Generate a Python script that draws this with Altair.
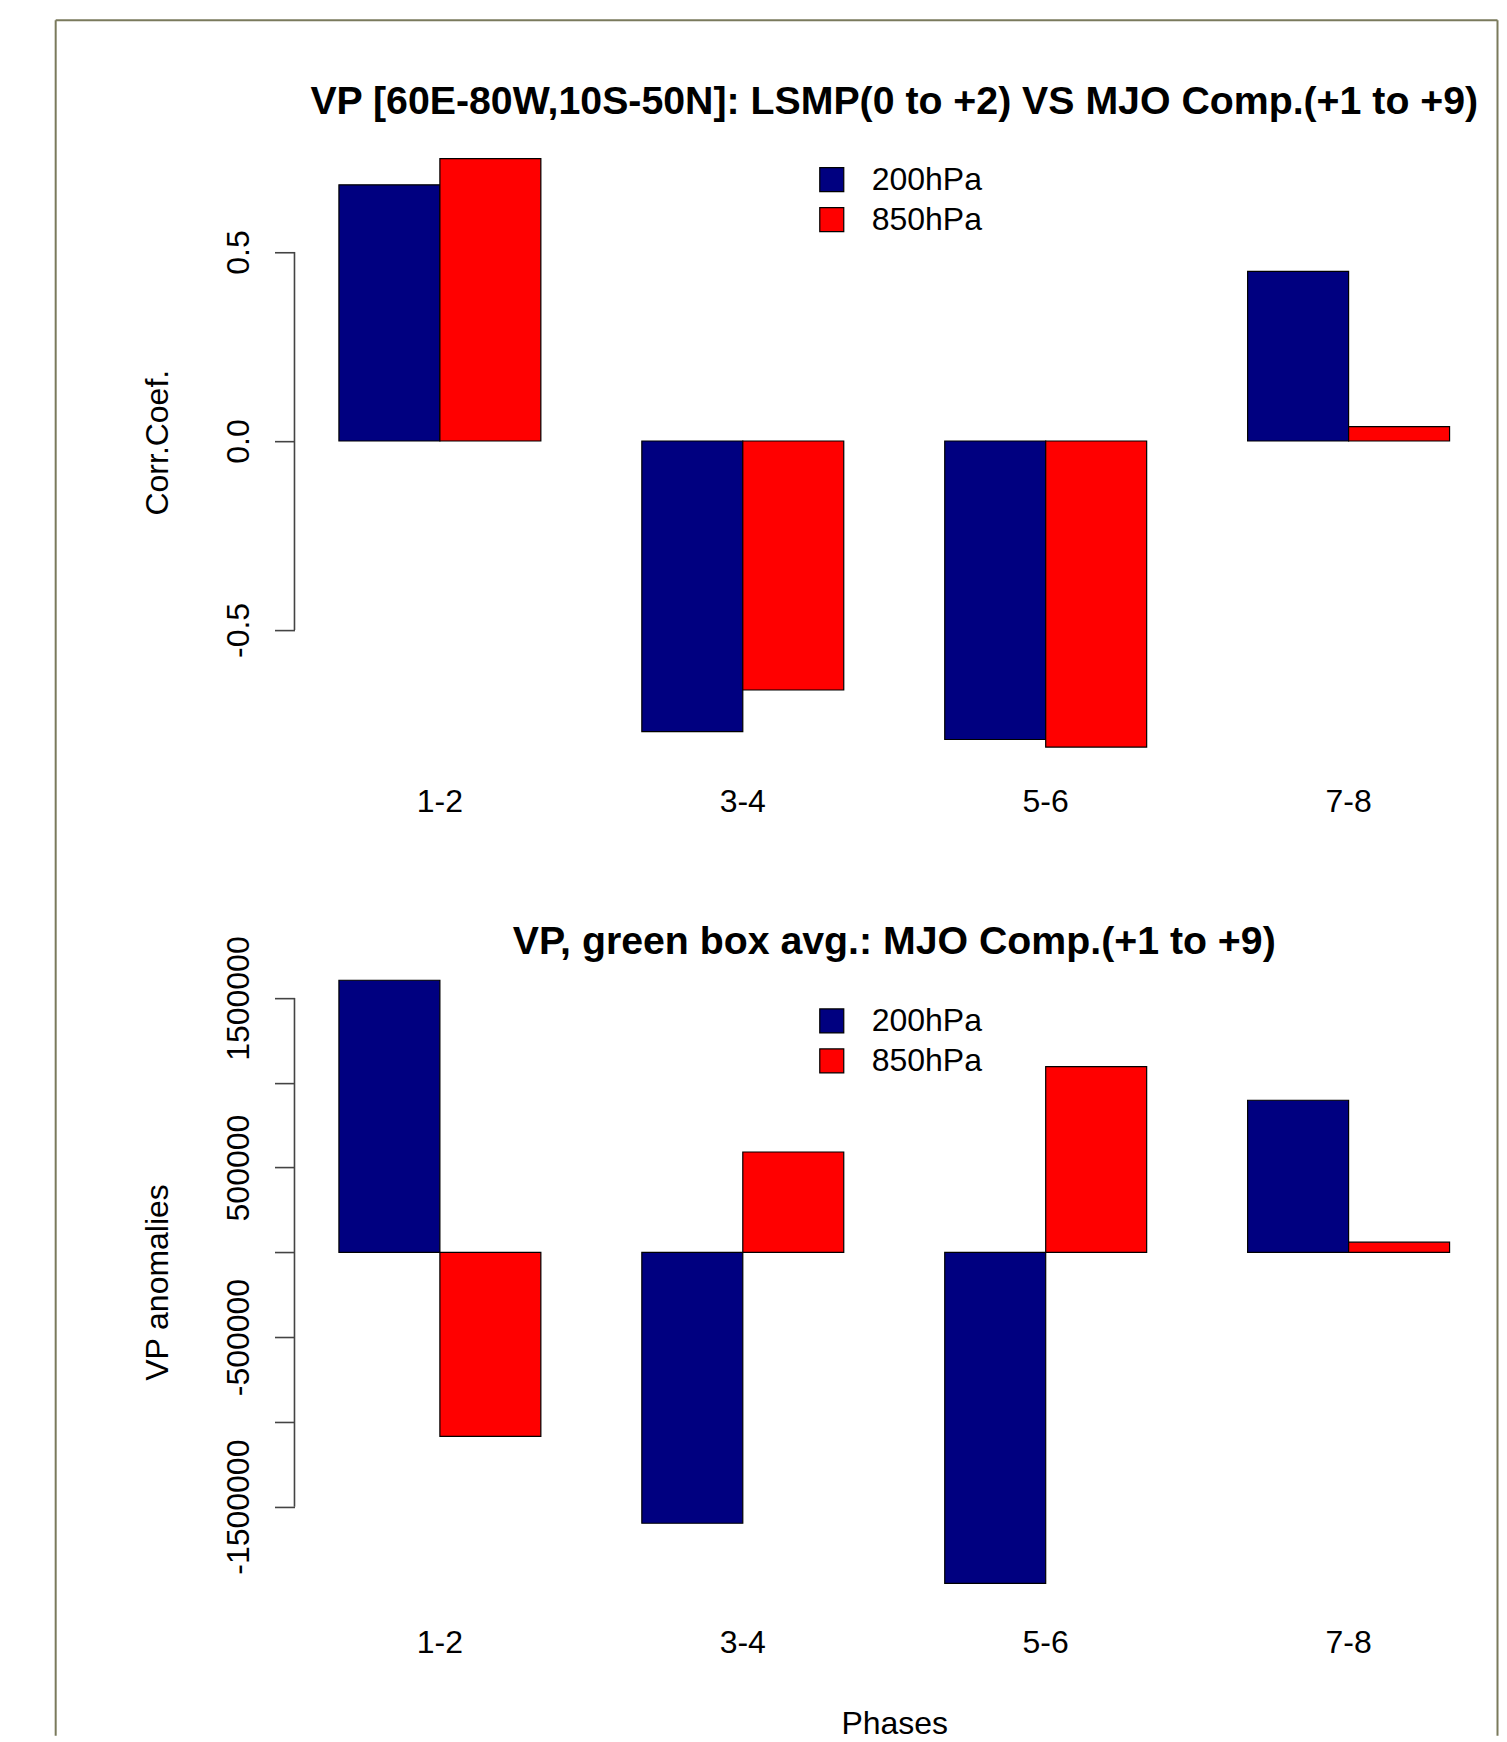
import altair as alt
import pandas as pd

# ---- data ----
phases = ["1-2", "3-4", "5-6", "7-8"]
levels = ["200hPa", "850hPa"]
corr_200 = [0.678, -0.769, -0.790, 0.449]
corr_850 = [0.747, -0.659, -0.810, 0.038]
vp_200 = [1605000, -1598000, -1953000, 897000]
vp_850 = [-1085000, 592000, 1095000, 60000]
corr_ticks = [-0.5, 0.0, 0.5]
vp_ticks = [-1500000, -1000000, -500000, 0, 500000, 1000000, 1500000]
bar_colors = ["#000080", "#FF0000"]
title_top = "VP [60E-80W,10S-50N]: LSMP(0 to +2) VS MJO Comp.(+1 to +9)"
title_bottom = "VP, green box avg.: MJO Comp.(+1 to +9)"
ytitle_top = "Corr.Coef."
ytitle_bottom = "VP anomalies"
xtitle_bottom = "Phases"

# ---- layout / style ----
W = 1200
H = 636
FONT = "Liberation Sans"
AX = "#444444"
FS = 32


def long_table(v200, v850):
    rows = []
    for p, a, b in zip(phases, v200, v850):
        rows.append({"phase": p, "level": levels[0], "value": a})
        rows.append({"phase": p, "level": levels[1], "value": b})
    return pd.DataFrame(rows)


def panel(df, ticks, domain, ytitle, title, title_offset, label_expr, legend_y,
          xlab_pad, xtitle=None):
    common_x = dict(labelAngle=0, labelFontSize=FS, labelColor="black",
                    labelBaseline="alphabetic", labelPadding=xlab_pad,
                    ticks=False, tickSize=0, domain=False,
                    labelOverlap=False, labelFlush=False)
    xscale = alt.Scale(paddingInner=1 / 3, paddingOuter=0.1467)
    if xtitle is None:
        x_enc = alt.X("phase:N", sort=phases, title=None, scale=xscale,
                      axis=alt.Axis(**common_x))
    else:
        x_enc = alt.X("phase:N", sort=phases, title=xtitle, scale=xscale,
                      axis=alt.Axis(titleFontSize=FS, titleFontWeight="normal",
                                    titleColor="black", titleBaseline="alphabetic",
                                    titleY=122.6, **common_x))

    y_axis = alt.Axis(values=ticks, labelExpr=label_expr, labelAngle=270,
                      labelAlign="center", labelBaseline="alphabetic",
                      labelPadding=26.5, labelFontSize=FS, labelColor="black",
                      labelOverlap=False, labelFlush=False,
                      tickSize=20, tickColor=AX, tickWidth=1.6,
                      domain=False, grid=False,
                      titleFontSize=FS, titleFontWeight="normal",
                      titleColor="black", titleAngle=270, titleAlign="center",
                      titleBaseline="alphabetic", titleX=-127.5, titleY=307)
    yscale = alt.Scale(domain=domain, nice=False, zero=False)

    legend = alt.Legend(orient="none", legendX=521.5, legendY=legend_y,
                        title=None, symbolType="square", symbolSize=576,
                        symbolStrokeColor="black", symbolStrokeWidth=1.2,
                        labelFontSize=FS, labelColor="black", labelOffset=24,
                        rowPadding=8, padding=0)

    bars = alt.Chart(df).mark_bar(stroke="black", strokeWidth=1.2).encode(
        x=x_enc,
        xOffset=alt.XOffset("level:N", sort=levels,
                            scale=alt.Scale(paddingInner=0, paddingOuter=0)),
        y=alt.Y("value:Q", title=ytitle, scale=yscale, axis=y_axis),
        color=alt.Color("level:N", sort=levels,
                        scale=alt.Scale(domain=levels, range=bar_colors),
                        legend=legend),
    )

    # R-style axis line: spans from the first to the last tick only
    axis_df = pd.DataFrame({"lo": [min(ticks)], "hi": [max(ticks)]})
    axis_line = alt.Chart(axis_df).mark_rule(color=AX, strokeWidth=1.6).encode(
        x=alt.value(0),
        y=alt.Y("lo:Q", title=ytitle, scale=yscale, axis=y_axis),
        y2="hi:Q",
    )

    return alt.layer(bars, axis_line).properties(
        width=W, height=H,
        title=alt.Title(title, fontSize=39.3, fontWeight="bold", anchor="middle",
                        frame="group", baseline="alphabetic", offset=title_offset,
                        color="black", font=FONT),
    )


top = panel(long_table(corr_200, corr_850), corr_ticks, [-0.8735, 0.809],
            ytitle_top, title_top, -18,
            "replace(format(datum.value, '.1f'), '\u2212', '-')", 28.3, 40.5)

bottom = panel(long_table(vp_200, vp_850), vp_ticks, [-2115000, 1635000],
               ytitle_bottom, title_bottom, -58,
               "(abs(datum.value) == 1000000 || datum.value == 0) ? '' : "
               "replace(format(datum.value, 'd'), '\u2212', '-')",
               29.8, 41.5, xtitle=xtitle_bottom)

# outer frame of the figure (decoration only)
FRAME = "#7a7a5c"
fdata = alt.Data(values=[{"k": 1}])
f_top = alt.Chart(fdata).mark_rule(color=FRAME, strokeWidth=2).encode(
    x=alt.value(-238.9), x2=alt.value(1203.5), y=alt.value(-851.3))
f_left = alt.Chart(fdata).mark_rule(color=FRAME, strokeWidth=2).encode(
    x=alt.value(-238.9), y=alt.value(-851.3), y2=alt.value(865.0))
f_right = alt.Chart(fdata).mark_rule(color=FRAME, strokeWidth=2).encode(
    x=alt.value(1203.5), y=alt.value(-851.3), y2=alt.value(865.0))
frame = alt.layer(f_top, f_left, f_right).properties(width=W, height=4)

chart = alt.vconcat(top, frame, bottom, spacing=100.1, bounds="flush").resolve_scale(
    x="independent", y="independent", color="independent"
).resolve_legend(color="independent").properties(
    padding={"left": 46.6, "top": 10, "right": 0, "bottom": 0},
    background="white",
).configure(font=FONT).configure_view(strokeWidth=0)

chart.save("out.html", embed_options={"renderer": "svg", "actions": False})
